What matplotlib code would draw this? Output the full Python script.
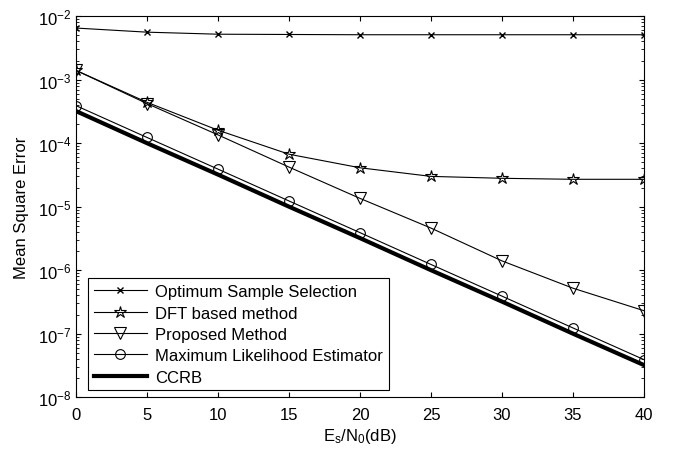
import matplotlib
matplotlib.use("Agg")
import matplotlib.pyplot as plt
from matplotlib.ticker import NullFormatter

plt.rcParams["font.family"] = ["Liberation Sans", "DejaVu Sans"]
plt.rcParams["mathtext.fontset"] = "custom"
plt.rcParams["mathtext.rm"] = "Liberation Sans"
plt.rcParams["mathtext.it"] = "Liberation Sans"

snr = [0, 5, 10, 15, 20, 25, 30, 35, 40]

optimum = [6.5e-3, 5.6e-3, 5.2e-3, 5.15e-3, 5.1e-3, 5.1e-3, 5.1e-3, 5.1e-3, 5.1e-3]
dft = [1.4e-3, 4.4e-4, 1.6e-4, 6.7e-5, 4.1e-5, 3.0e-5, 2.8e-5, 2.7e-5, 2.7e-5]
proposed = [1.4e-3, 4.2e-4, 1.35e-4, 4.2e-5, 1.35e-5, 4.6e-6, 1.4e-6, 5.2e-7, 2.3e-7]
ml = [3.9e-4, 1.23e-4, 3.9e-5, 1.23e-5, 3.9e-6, 1.23e-6, 3.9e-7, 1.23e-7, 3.9e-8]
ccrb = [3.2e-4, 1.0e-4, 3.2e-5, 1.0e-5, 3.2e-6, 1.0e-6, 3.2e-7, 1.0e-7, 3.2e-8]

fig = plt.figure(figsize=(6.73, 4.52), dpi=100)
ax = fig.add_axes([0.113, 0.119, 0.844, 0.843])

lw = 0.8
ax.semilogy(snr, optimum, "k-", marker="x", ms=5, mfc="none", lw=lw,
            label="Optimum Sample Selection")
ax.semilogy(snr, dft, "k-", marker="*", ms=9, mfc="none", mew=0.8, lw=lw,
            label="DFT based method")
ax.semilogy(snr, proposed, "k-", marker="v", ms=8, mfc="none", mew=0.8, lw=lw,
            label="Proposed Method")
ax.semilogy(snr, ml, "k-", marker="o", ms=7, mfc="none", mew=0.8, lw=lw,
            label="Maximum Likelihood Estimator")
ax.semilogy(snr, ccrb, "k-", lw=3, label="CCRB")

ax.set_xlim(0, 40)
ax.set_ylim(1e-8, 1e-2)
ax.set_xticks(snr)
ax.yaxis.set_minor_formatter(NullFormatter())
ax.tick_params(which="both", direction="in", top=True, right=True, labelsize=12)
ax.tick_params(axis="x", which="minor", top=False, bottom=False)
ax.tick_params(axis="x", pad=7)
ax.set_xlabel(r"E$_\mathrm{s}$/N$_0$(dB)", fontsize=12, labelpad=3)
ax.set_ylabel("Mean Square Error", fontsize=12, labelpad=6)

leg = ax.legend(loc="lower left", bbox_to_anchor=(0.021, 0.018), fontsize=12,
                handlelength=3.2, borderpad=0.35, labelspacing=0.38,
                handletextpad=0.5, borderaxespad=0, fancybox=False,
                framealpha=1, edgecolor="black")
leg.get_frame().set_linewidth(0.8)

plt.savefig("out.png", dpi=100)
